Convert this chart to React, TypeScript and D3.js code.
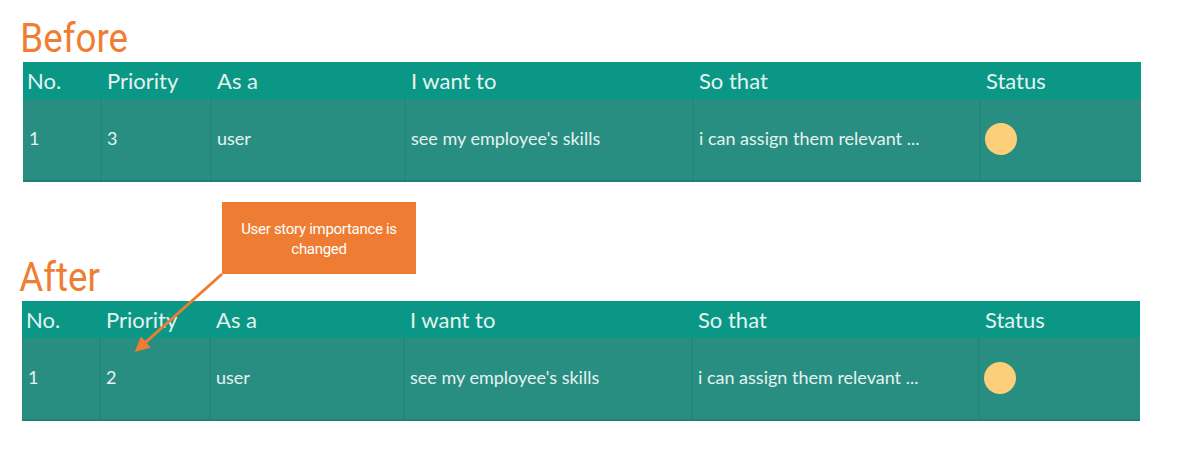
import * as d3 from 'd3';

const columns = ['No.', 'Priority', 'As a', 'I want to', 'So that', 'Status'];
const beforeRow = ['1', '3', 'user', "see my employee's skills", 'i can assign them relevant ...', ''];
const afterRow = ['1', '2', 'user', "see my employee's skills", 'i can assign them relevant ...', ''];
const tables = [
  { title: 'Before', row: beforeRow },
  { title: 'After', row: afterRow },
];
const calloutLines = ['User story importance is', 'changed'];

// column edges in pixels
const colEdges = [0, 78, 188, 382, 670, 957];
const x = d3.scaleOrdinal<string, number>().domain(columns).range(colEdges);

const W = 1118;
const headH = 37;
const rowH = 83;

function Table({ title, row, tx, ty }: { title: string; row: string[]; tx: number; ty: number }) {
  return (
    <g transform={`translate(${tx},${ty})`}>
      <text x={-3} y={-10} fontFamily="Roboto" fontSize={40} fill="#ef7d32" transform="scale(0.92,1)">
        {title}
      </text>
      <rect width={W} height={headH} fill="#0a9786" />
      <rect y={headH} width={W} height={rowH} fill="#288e82" />
      <rect y={headH + rowH - 2} width={W} height={2} fill="#1f7f74" />
      {columns.slice(1).map((c) => (
        <line key={c} x1={x(c)} x2={x(c)} y1={headH} y2={headH + rowH} stroke="#1f8075" strokeWidth={1} />
      ))}
      {columns.map((c, i) => (
        <text key={c} x={x(c) + (i === 0 ? 4 : 6)} y={27} fontFamily="Lato" fontSize={22} fill="#e3f3ef">
          {c}
        </text>
      ))}
      {row.map((v, i) => (
        <text key={i} x={x(columns[i]) + (i === 0 ? 6 : 6)} y={headH + 46} fontFamily="Lato" fontSize={18} fill="#e6f3f0">
          {v}
        </text>
      ))}
      <circle cx={x('Status') + 21} cy={headH + 40} r={16} fill="#fecf79" />
    </g>
  );
}

export default function App() {
  return (
    <svg width={1181} height={458} style={{ position: 'absolute', left: 0, top: 0, background: '#fff' }}>
      <defs>
        <marker id="ah" viewBox="0 0 10 10" refX={8} refY={5} markerWidth={5} markerHeight={5} orient="auto">
          <path d="M0,0L10,5L0,10z" fill="#ee7d33" />
        </marker>
      </defs>
      <Table title={tables[0].title} row={tables[0].row} tx={23} ty={62} />
      <Table title={tables[1].title} row={tables[1].row} tx={22} ty={301} />
      <rect x={222} y={202} width={194} height={72} fill="#ee7d33" />
      {calloutLines.map((l, i) => (
        <text key={i} x={319} y={234 + i * 20} textAnchor="middle" fontFamily="Roboto" fontSize={15} fill="#fff" transform="" style={{ letterSpacing: '-0.3px' }}>
          {l}
        </text>
      ))}
      <line x1={222} y1={274} x2={137} y2={350} stroke="#ee7d33" strokeWidth={3} markerEnd="url(#ah)" />
    </svg>
  );
}
